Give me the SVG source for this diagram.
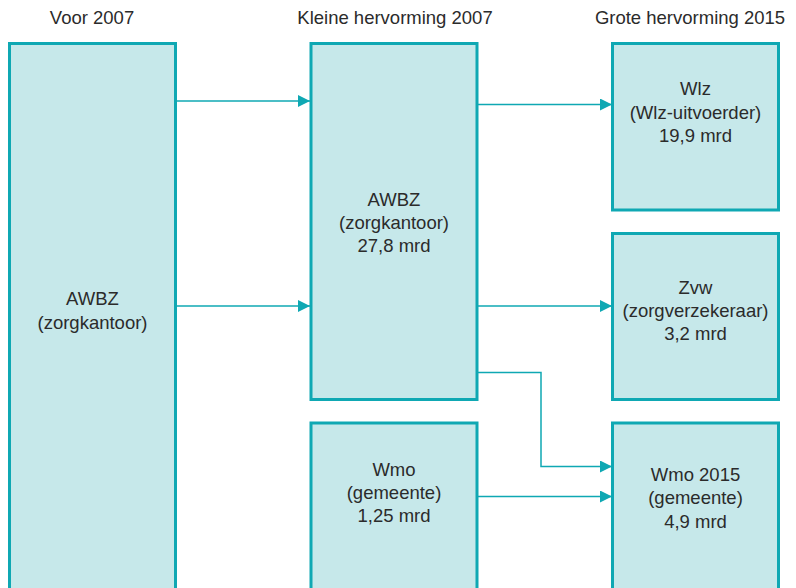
<svg xmlns="http://www.w3.org/2000/svg" width="796" height="588" viewBox="0 0 796 588">
  <style>
    .box { fill: #c6e8ea; stroke: #0fa8b3; stroke-width: 3; }
    .lbl { font-family: "Liberation Sans", Arial, sans-serif; font-size: 18.5px; fill: #2b2b2b; text-anchor: middle; }
    .edge { fill: none; stroke: #0fa8b3; stroke-width: 1.5; }
  </style>
  <defs>
    <marker id="arrow" viewBox="0 0 12 12" refX="12" refY="6" markerWidth="12" markerHeight="12" markerUnits="userSpaceOnUse" orient="auto">
      <path d="M0,0 L12,6 L0,12 Z" fill="#0fa8b3"/>
    </marker>
  </defs>
  <rect width="796" height="588" fill="#ffffff"/>

  <!-- column headings -->
  <g id="headings">
    <text class="lbl" x="92" y="24">Voor 2007</text>
    <text class="lbl" x="395" y="24">Kleine hervorming 2007</text>
    <text class="lbl" x="690" y="24">Grote hervorming 2015</text>
  </g>

  <!-- connectors -->
  <g id="connectors">
    <path class="edge" d="M177,101 H310" marker-end="url(#arrow)"/>
    <path class="edge" d="M177,306 H310" marker-end="url(#arrow)"/>
    <path class="edge" d="M478,104.5 H612" marker-end="url(#arrow)"/>
    <path class="edge" d="M478,306 H612" marker-end="url(#arrow)"/>
    <path class="edge" d="M478,372.5 H541 V466.5 H612" marker-end="url(#arrow)"/>
    <path class="edge" d="M478,496.5 H612" marker-end="url(#arrow)"/>
  </g>

  <g id="awbz-voor">
    <rect class="box" x="9.5" y="43.5" width="166" height="560"/>
    <text class="lbl" x="92.5" y="305">AWBZ</text>
    <text class="lbl" x="92.5" y="329">(zorgkantoor)</text>
  </g>

  <g id="awbz-2007">
    <rect class="box" x="311" y="43.5" width="166" height="356"/>
    <text class="lbl" x="394" y="206">AWBZ</text>
    <text class="lbl" x="394" y="229">(zorgkantoor)</text>
    <text class="lbl" x="394" y="252">27,8 mrd</text>
  </g>

  <g id="wmo-2007">
    <rect class="box" x="311" y="423" width="166" height="180"/>
    <text class="lbl" x="394" y="476">Wmo</text>
    <text class="lbl" x="394" y="499">(gemeente)</text>
    <text class="lbl" x="394" y="522">1,25 mrd</text>
  </g>

  <g id="wlz">
    <rect class="box" x="612.5" y="43.5" width="166" height="166.5"/>
    <text class="lbl" x="695.5" y="95">Wlz</text>
    <text class="lbl" x="695.5" y="119">(Wlz-uitvoerder)</text>
    <text class="lbl" x="695.5" y="142">19,9 mrd</text>
  </g>

  <g id="zvw">
    <rect class="box" x="612.5" y="233.5" width="166" height="166"/>
    <text class="lbl" x="695.5" y="294">Zvw</text>
    <text class="lbl" x="695.5" y="317">(zorgverzekeraar)</text>
    <text class="lbl" x="695.5" y="340">3,2 mrd</text>
  </g>

  <g id="wmo-2015">
    <rect class="box" x="612.5" y="423" width="166" height="180"/>
    <text class="lbl" x="695.5" y="481">Wmo 2015</text>
    <text class="lbl" x="695.5" y="504">(gemeente)</text>
    <text class="lbl" x="695.5" y="528">4,9 mrd</text>
  </g>
</svg>
